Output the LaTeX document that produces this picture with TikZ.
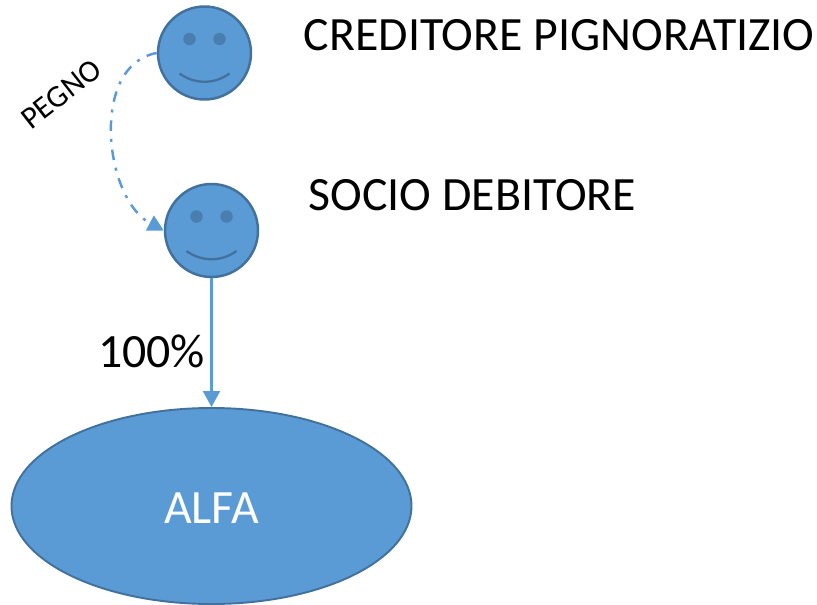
\documentclass[tikz,border=0pt]{standalone}
\usepackage{fontspec}
\setmainfont{Carlito}
\usepackage{xcolor}
\usetikzlibrary{arrows.meta,shapes.geometric}
\definecolor{facefill}{HTML}{5B9BD5}
\definecolor{faceline}{HTML}{41719C}
\definecolor{eyefill}{HTML}{4A7EAE}
\tikzset{
  face/.style={circle,draw=faceline,fill=facefill,line width=1.4pt,minimum size=1.86cm,inner sep=0pt},
  bigoval/.style={ellipse,draw=faceline,fill=facefill,line width=1.1pt,minimum width=8cm,minimum height=3.92cm,inner sep=0pt},
  lbl/.style={font=\fontsize{27.2}{32}\selectfont,inner sep=0pt},
  link/.style={draw=facefill,line width=1.4pt,-{Triangle[length=9pt,width=9.5pt]}}
}
\begin{document}
\begin{tikzpicture}
                \useasboundingbox (0,0) rectangle (16.34,12.08);
                \node[face] (credface) at (4.09,11.02) {};
                \node[face] (socioface) at (4.23,7.47) {};
                \node[bigoval] (alfa) at (4.23,1.96) {};
                \node[text=white,lbl] (alfalabel) at (4.23,1.92) {ALFA};
                \foreach \Face in {credface,socioface} {
                \fill[eyefill] (\Face.center) ++(-0.3,0.28) circle (0.125);
                \fill[eyefill] (\Face.center) ++(0.3,0.28) circle (0.125);
                \draw[faceline,line width=1.3pt] (\Face.center) ++(-0.5,-0.41) .. controls +(0.3,-0.22) and +(-0.3,-0.22) .. +(1,0);
                }
                \node[lbl,anchor=west] (credlabel) at (6.07,11.38) {CREDITORE PIGNORATIZIO};
                \node[lbl,anchor=west] (sociolabel) at (6.17,8.17) {SOCIO DEBITORE};
                \node[lbl] (quota) at (3.03,5.06) {100\%};
                \node[font=\fontsize{17.8}{21}\selectfont,inner sep=0pt,rotate=38] (pegno) at (1.22,10.2) {PEGNO};
                \draw[link,dash pattern=on 6pt off 4.5pt on 1.7pt off 4.5pt] (credface.west) to[out=190,in=152,looseness=0.98] (socioface.west);
                \draw[link] (socioface.south) -- (alfa.north);
            \end{tikzpicture}
\end{document}
